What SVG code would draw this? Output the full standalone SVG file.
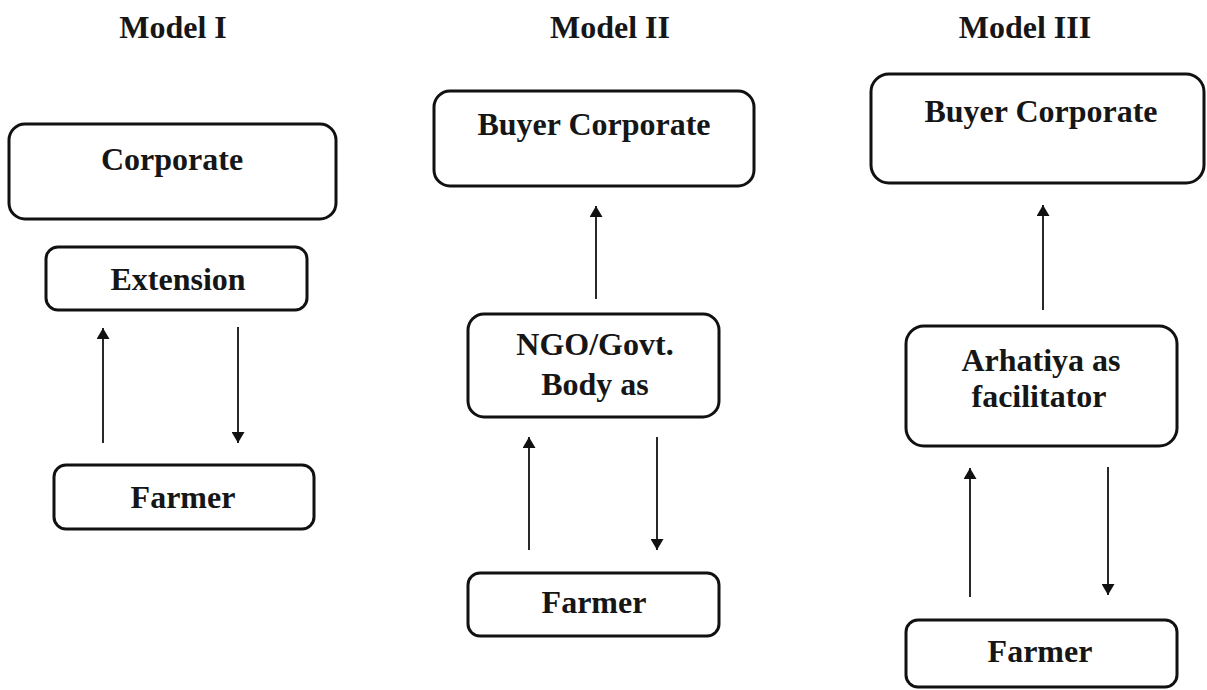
<svg xmlns="http://www.w3.org/2000/svg" width="1207" height="690" viewBox="0 0 1207 690">
  <defs>
    <style>
      .box { fill: #ffffff; stroke: #111111; stroke-width: 3; }
      .lbl { font-family: "Liberation Serif", "Times New Roman", serif; font-weight: bold; font-size: 32px; fill: #161616; text-anchor: middle; }
      .link { stroke: #111111; stroke-width: 1.8; fill: none; marker-end: url(#head); }
    </style>
    <marker id="head" viewBox="0 0 11 13" refX="11" refY="6.5" markerWidth="11" markerHeight="13" markerUnits="userSpaceOnUse" orient="auto">
      <path d="M0,0 L11,6.5 L0,13 Z" fill="#111111"/>
    </marker>
  </defs>
  <rect width="1207" height="690" fill="#ffffff"/>

  <!-- column headings -->
  <g id="headings">
    <text class="lbl" x="173" y="38">Model I</text>
    <text class="lbl" x="610" y="38">Model II</text>
    <text class="lbl" x="1025" y="38">Model III</text>
  </g>

  <!-- Model I -->
  <g id="m1-corporate">
    <rect class="box" x="9" y="124" width="327" height="95" rx="16"/>
    <text class="lbl" x="172" y="170">Corporate</text>
  </g>
  <g id="m1-extension">
    <rect class="box" x="46" y="247" width="261" height="63" rx="12"/>
    <text class="lbl" x="178" y="290">Extension</text>
  </g>
  <g id="m1-farmer">
    <rect class="box" x="54" y="465" width="260" height="64" rx="12"/>
    <text class="lbl" x="183" y="508">Farmer</text>
  </g>

  <!-- Model II -->
  <g id="m2-buyer">
    <rect class="box" x="434" y="91" width="320" height="95" rx="16"/>
    <text class="lbl" x="594" y="135">Buyer Corporate</text>
  </g>
  <g id="m2-ngo">
    <rect class="box" x="468" y="314" width="251" height="103" rx="16"/>
    <text class="lbl" x="595" y="355">NGO/Govt.</text>
    <text class="lbl" x="595" y="395">Body as</text>
  </g>
  <g id="m2-farmer">
    <rect class="box" x="468" y="573" width="251" height="63" rx="12"/>
    <text class="lbl" x="594" y="613">Farmer</text>
  </g>

  <!-- Model III -->
  <g id="m3-buyer">
    <rect class="box" x="871" y="74" width="333" height="109" rx="18"/>
    <text class="lbl" x="1041" y="122">Buyer Corporate</text>
  </g>
  <g id="m3-arhatiya">
    <rect class="box" x="906" y="326" width="271" height="120" rx="18"/>
    <text class="lbl" x="1041" y="371">Arhatiya as</text>
    <text class="lbl" x="1039" y="407">facilitator</text>
  </g>
  <g id="m3-farmer">
    <rect class="box" x="906" y="620" width="271" height="67" rx="12"/>
    <text class="lbl" x="1040" y="662">Farmer</text>
  </g>

  <!-- connectors -->
  <g id="connectors">
    <line class="link" x1="103" y1="443" x2="103" y2="328"/>
    <line class="link" x1="238" y1="327" x2="238" y2="443"/>
    <line class="link" x1="596" y1="299" x2="596" y2="206"/>
    <line class="link" x1="529" y1="550" x2="529" y2="437"/>
    <line class="link" x1="657" y1="437" x2="657" y2="550"/>
    <line class="link" x1="1043" y1="310" x2="1043" y2="205"/>
    <line class="link" x1="970" y1="597" x2="970" y2="468"/>
    <line class="link" x1="1108" y1="467" x2="1108" y2="595"/>
  </g>
</svg>
